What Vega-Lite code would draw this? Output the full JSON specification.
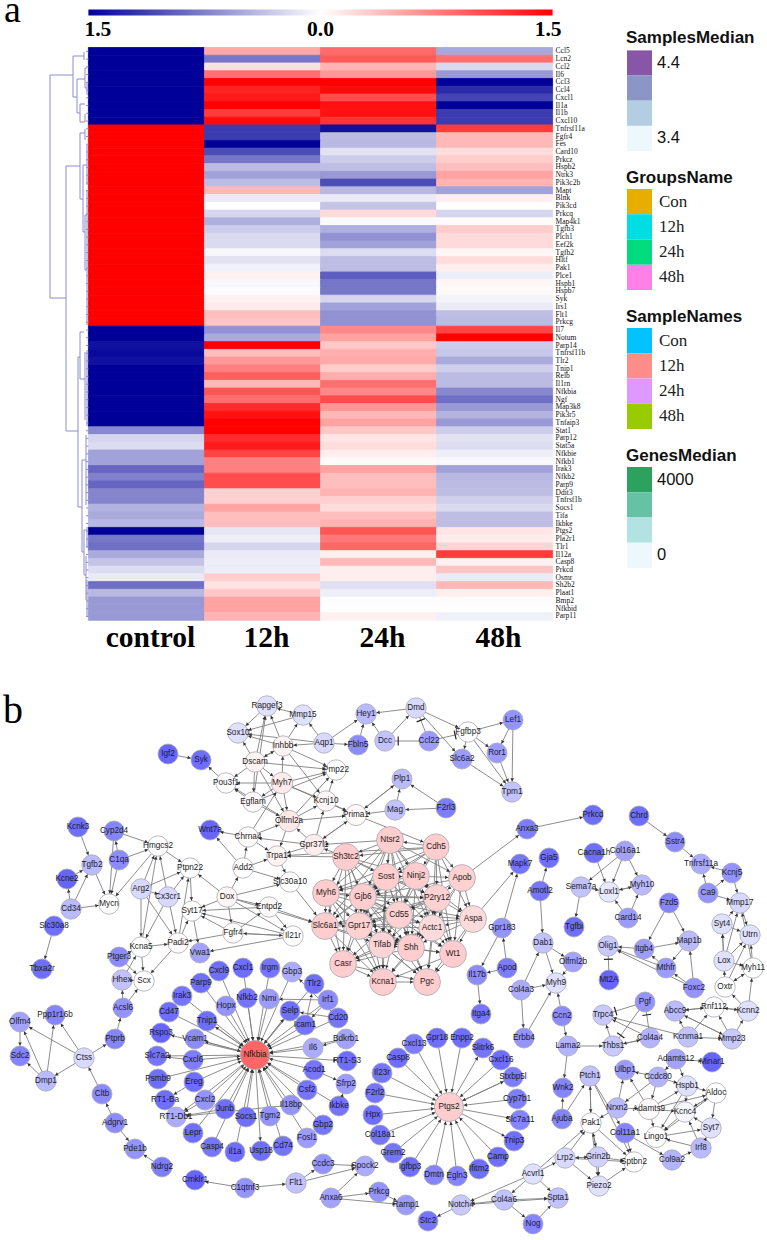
{"$schema":"https://vega.github.io/schema/vega-lite/v6.json","width":767,"height":1240,"padding":0,"autosize":{"type":"none"},"background":"white","config":{"view":{"stroke":null}},
"datasets":{
"heat":[
{"g":"Ccl5","s":"control","v":-1.5},{"g":"Ccl5","s":"12h","v":0.51},{"g":"Ccl5","s":"24h","v":0.87},{"g":"Ccl5","s":"48h","v":-0.51},
{"g":"Lcn2","s":"control","v":-1.5},{"g":"Lcn2","s":"12h","v":-0.8},{"g":"Lcn2","s":"24h","v":0.97},{"g":"Lcn2","s":"48h","v":0.84},
{"g":"Ccl2","s":"control","v":-1.5},{"g":"Ccl2","s":"12h","v":0.18},{"g":"Ccl2","s":"24h","v":0.44},{"g":"Ccl2","s":"48h","v":-0.23},
{"g":"Il6","s":"control","v":-1.5},{"g":"Il6","s":"12h","v":0.84},{"g":"Il6","s":"24h","v":0.6},{"g":"Il6","s":"48h","v":-0.6},
{"g":"Ccl3","s":"control","v":-1.5},{"g":"Ccl3","s":"12h","v":1.5},{"g":"Ccl3","s":"24h","v":1.5},{"g":"Ccl3","s":"48h","v":-1.5},
{"g":"Ccl4","s":"control","v":-1.5},{"g":"Ccl4","s":"12h","v":1.3},{"g":"Ccl4","s":"24h","v":1.45},{"g":"Ccl4","s":"48h","v":-1.25},
{"g":"Cxcl1","s":"control","v":-1.5},{"g":"Cxcl1","s":"12h","v":1.35},{"g":"Cxcl1","s":"24h","v":1.05},{"g":"Cxcl1","s":"48h","v":-1.1},
{"g":"Il1a","s":"control","v":-1.5},{"g":"Il1a","s":"12h","v":1.5},{"g":"Il1a","s":"24h","v":1.4},{"g":"Il1a","s":"48h","v":-1.5},
{"g":"Il1b","s":"control","v":-1.5},{"g":"Il1b","s":"12h","v":1.15},{"g":"Il1b","s":"24h","v":1.4},{"g":"Il1b","s":"48h","v":-1.15},
{"g":"Cxcl10","s":"control","v":-1.5},{"g":"Cxcl10","s":"12h","v":1.45},{"g":"Cxcl10","s":"24h","v":1.2},{"g":"Cxcl10","s":"48h","v":-1.15},
{"g":"Tnfrsf11a","s":"control","v":1.5},{"g":"Tnfrsf11a","s":"12h","v":-1.15},{"g":"Tnfrsf11a","s":"24h","v":-1.4},{"g":"Tnfrsf11a","s":"48h","v":1.15},
{"g":"Fgfr4","s":"control","v":1.5},{"g":"Fgfr4","s":"12h","v":-1.15},{"g":"Fgfr4","s":"24h","v":-0.4},{"g":"Fgfr4","s":"48h","v":0.42},
{"g":"Fes","s":"control","v":1.5},{"g":"Fes","s":"12h","v":-1.5},{"g":"Fes","s":"24h","v":-0.42},{"g":"Fes","s":"48h","v":0.42},
{"g":"Card10","s":"control","v":1.5},{"g":"Card10","s":"12h","v":-1.05},{"g":"Card10","s":"24h","v":-0.17},{"g":"Card10","s":"48h","v":0.2},
{"g":"Prkcz","s":"control","v":1.5},{"g":"Prkcz","s":"12h","v":-0.8},{"g":"Prkcz","s":"24h","v":-0.3},{"g":"Prkcz","s":"48h","v":0.3},
{"g":"Hspb2","s":"control","v":1.5},{"g":"Hspb2","s":"12h","v":-0.4},{"g":"Hspb2","s":"24h","v":-0.38},{"g":"Hspb2","s":"48h","v":0.38},
{"g":"Ntrk3","s":"control","v":1.5},{"g":"Ntrk3","s":"12h","v":-0.55},{"g":"Ntrk3","s":"24h","v":-0.6},{"g":"Ntrk3","s":"48h","v":0.55},
{"g":"Pik3c2b","s":"control","v":1.5},{"g":"Pik3c2b","s":"12h","v":-0.4},{"g":"Pik3c2b","s":"24h","v":-1.05},{"g":"Pik3c2b","s":"48h","v":0.45},
{"g":"Mapt","s":"control","v":1.5},{"g":"Mapt","s":"12h","v":0.42},{"g":"Mapt","s":"24h","v":-0.42},{"g":"Mapt","s":"48h","v":-0.55},
{"g":"Blnk","s":"control","v":1.5},{"g":"Blnk","s":"12h","v":-0.12},{"g":"Blnk","s":"24h","v":-0.12},{"g":"Blnk","s":"48h","v":0.1},
{"g":"Pik3cd","s":"control","v":1.5},{"g":"Pik3cd","s":"12h","v":0},{"g":"Pik3cd","s":"24h","v":-0.35},{"g":"Pik3cd","s":"48h","v":0},
{"g":"Prkcq","s":"control","v":1.5},{"g":"Prkcq","s":"12h","v":-0.25},{"g":"Prkcq","s":"24h","v":0.22},{"g":"Prkcq","s":"48h","v":-0.25},
{"g":"Map4k1","s":"control","v":1.5},{"g":"Map4k1","s":"12h","v":-0.47},{"g":"Map4k1","s":"24h","v":-0.03},{"g":"Map4k1","s":"48h","v":0.03},
{"g":"Tgfb3","s":"control","v":1.5},{"g":"Tgfb3","s":"12h","v":-0.3},{"g":"Tgfb3","s":"24h","v":-0.47},{"g":"Tgfb3","s":"48h","v":0.3},
{"g":"Plch1","s":"control","v":1.5},{"g":"Plch1","s":"12h","v":-0.22},{"g":"Plch1","s":"24h","v":-0.65},{"g":"Plch1","s":"48h","v":0.22},
{"g":"Eef2k","s":"control","v":1.5},{"g":"Eef2k","s":"12h","v":-0.22},{"g":"Eef2k","s":"24h","v":-0.55},{"g":"Eef2k","s":"48h","v":0.22},
{"g":"Tgfb2","s":"control","v":1.5},{"g":"Tgfb2","s":"12h","v":-0.05},{"g":"Tgfb2","s":"24h","v":-0.2},{"g":"Tgfb2","s":"48h","v":0.05},
{"g":"Hltf","s":"control","v":1.5},{"g":"Hltf","s":"12h","v":-0.17},{"g":"Hltf","s":"24h","v":-0.38},{"g":"Hltf","s":"48h","v":0.2},
{"g":"Pak1","s":"control","v":1.5},{"g":"Pak1","s":"12h","v":-0.08},{"g":"Pak1","s":"24h","v":-0.38},{"g":"Pak1","s":"48h","v":0.1},
{"g":"Plce1","s":"control","v":1.5},{"g":"Plce1","s":"12h","v":0.08},{"g":"Plce1","s":"24h","v":-0.95},{"g":"Plce1","s":"48h","v":-0.1},
{"g":"Hspb1","s":"control","v":1.5},{"g":"Hspb1","s":"12h","v":-0.05},{"g":"Hspb1","s":"24h","v":-0.8},{"g":"Hspb1","s":"48h","v":0.05},
{"g":"Hspb7","s":"control","v":1.5},{"g":"Hspb7","s":"12h","v":-0.02},{"g":"Hspb7","s":"24h","v":-0.8},{"g":"Hspb7","s":"48h","v":0.03},
{"g":"Syk","s":"control","v":1.5},{"g":"Syk","s":"12h","v":0.08},{"g":"Syk","s":"24h","v":-0.25},{"g":"Syk","s":"48h","v":-0.07},
{"g":"Irs1","s":"control","v":1.5},{"g":"Irs1","s":"12h","v":0.12},{"g":"Irs1","s":"24h","v":-0.55},{"g":"Irs1","s":"48h","v":-0.12},
{"g":"Flt1","s":"control","v":1.5},{"g":"Flt1","s":"12h","v":0.38},{"g":"Flt1","s":"24h","v":-0.65},{"g":"Flt1","s":"48h","v":-0.38},
{"g":"Prkcg","s":"control","v":1.5},{"g":"Prkcg","s":"12h","v":0.35},{"g":"Prkcg","s":"24h","v":-0.65},{"g":"Prkcg","s":"48h","v":-0.4},
{"g":"Il7","s":"control","v":-1.5},{"g":"Il7","s":"12h","v":-0.65},{"g":"Il7","s":"24h","v":0.7},{"g":"Il7","s":"48h","v":1.1},
{"g":"Notum","s":"control","v":-1.5},{"g":"Notum","s":"12h","v":-0.5},{"g":"Notum","s":"24h","v":0.55},{"g":"Notum","s":"48h","v":1.5},
{"g":"Parp14","s":"control","v":-1.4},{"g":"Parp14","s":"12h","v":1.5},{"g":"Parp14","s":"24h","v":0.33},{"g":"Parp14","s":"48h","v":-0.3},
{"g":"Tnfrsf11b","s":"control","v":-1.45},{"g":"Tnfrsf11b","s":"12h","v":0.38},{"g":"Tnfrsf11b","s":"24h","v":0.48},{"g":"Tnfrsf11b","s":"48h","v":-0.33},
{"g":"Tlr2","s":"control","v":-1.4},{"g":"Tlr2","s":"12h","v":0.6},{"g":"Tlr2","s":"24h","v":0.5},{"g":"Tlr2","s":"48h","v":-0.5},
{"g":"Tnip1","s":"control","v":-1.5},{"g":"Tnip1","s":"12h","v":0.75},{"g":"Tnip1","s":"24h","v":0.3},{"g":"Tnip1","s":"48h","v":-0.28},
{"g":"Relb","s":"control","v":-1.5},{"g":"Relb","s":"12h","v":0.95},{"g":"Relb","s":"24h","v":0.48},{"g":"Relb","s":"48h","v":-0.4},
{"g":"Il1rn","s":"control","v":-1.5},{"g":"Il1rn","s":"12h","v":0.42},{"g":"Il1rn","s":"24h","v":0.85},{"g":"Il1rn","s":"48h","v":-0.4},
{"g":"Nfkbia","s":"control","v":-1.5},{"g":"Nfkbia","s":"12h","v":1.0},{"g":"Nfkbia","s":"24h","v":0.7},{"g":"Nfkbia","s":"48h","v":-0.7},
{"g":"Ngf","s":"control","v":-1.5},{"g":"Ngf","s":"12h","v":0.85},{"g":"Ngf","s":"24h","v":1.05},{"g":"Ngf","s":"48h","v":-0.85},
{"g":"Map3k8","s":"control","v":-1.5},{"g":"Map3k8","s":"12h","v":1.25},{"g":"Map3k8","s":"24h","v":0.62},{"g":"Map3k8","s":"48h","v":-0.6},
{"g":"Pik3r5","s":"control","v":-1.5},{"g":"Pik3r5","s":"12h","v":1.4},{"g":"Pik3r5","s":"24h","v":0.42},{"g":"Pik3r5","s":"48h","v":-0.45},
{"g":"Tnfaip3","s":"control","v":-1.5},{"g":"Tnfaip3","s":"12h","v":1.5},{"g":"Tnfaip3","s":"24h","v":0.55},{"g":"Tnfaip3","s":"48h","v":-0.6},
{"g":"Stat1","s":"control","v":-0.7},{"g":"Stat1","s":"12h","v":1.5},{"g":"Stat1","s":"24h","v":0.33},{"g":"Stat1","s":"48h","v":-0.3},
{"g":"Parp12","s":"control","v":-0.25},{"g":"Parp12","s":"12h","v":1.25},{"g":"Parp12","s":"24h","v":0.15},{"g":"Parp12","s":"48h","v":-0.17},
{"g":"Stat5a","s":"control","v":-0.2},{"g":"Stat5a","s":"12h","v":1.35},{"g":"Stat5a","s":"24h","v":0.2},{"g":"Stat5a","s":"48h","v":-0.2},
{"g":"Nfkbie","s":"control","v":-0.55},{"g":"Nfkbie","s":"12h","v":1.1},{"g":"Nfkbie","s":"24h","v":0.1},{"g":"Nfkbie","s":"48h","v":-0.1},
{"g":"Nfkb1","s":"control","v":-0.55},{"g":"Nfkb1","s":"12h","v":0.75},{"g":"Nfkb1","s":"24h","v":0.03},{"g":"Nfkb1","s":"48h","v":-0.05},
{"g":"Irak3","s":"control","v":-0.9},{"g":"Irak3","s":"12h","v":0.75},{"g":"Irak3","s":"24h","v":0.55},{"g":"Irak3","s":"48h","v":-0.55},
{"g":"Nfkb2","s":"control","v":-0.75},{"g":"Nfkb2","s":"12h","v":1.05},{"g":"Nfkb2","s":"24h","v":0.38},{"g":"Nfkb2","s":"48h","v":-0.42},
{"g":"Parp9","s":"control","v":-0.9},{"g":"Parp9","s":"12h","v":1.05},{"g":"Parp9","s":"24h","v":0.38},{"g":"Parp9","s":"48h","v":-0.4},
{"g":"Ddit3","s":"control","v":-0.72},{"g":"Ddit3","s":"12h","v":0.27},{"g":"Ddit3","s":"24h","v":0.45},{"g":"Ddit3","s":"48h","v":-0.38},
{"g":"Tnfrsf1b","s":"control","v":-0.72},{"g":"Tnfrsf1b","s":"12h","v":0.28},{"g":"Tnfrsf1b","s":"24h","v":0.28},{"g":"Tnfrsf1b","s":"48h","v":-0.28},
{"g":"Socs1","s":"control","v":-0.45},{"g":"Socs1","s":"12h","v":0.55},{"g":"Socs1","s":"24h","v":0.2},{"g":"Socs1","s":"48h","v":-0.22},
{"g":"Tifa","s":"control","v":-0.5},{"g":"Tifa","s":"12h","v":0.38},{"g":"Tifa","s":"24h","v":0.38},{"g":"Tifa","s":"48h","v":-0.38},
{"g":"Ikbke","s":"control","v":-0.42},{"g":"Ikbke","s":"12h","v":0.38},{"g":"Ikbke","s":"24h","v":0.45},{"g":"Ikbke","s":"48h","v":-0.38},
{"g":"Ptgs2","s":"control","v":-1.5},{"g":"Ptgs2","s":"12h","v":-0.15},{"g":"Ptgs2","s":"24h","v":1.0},{"g":"Ptgs2","s":"48h","v":0.15},
{"g":"Pla2r1","s":"control","v":-0.8},{"g":"Pla2r1","s":"12h","v":-0.1},{"g":"Pla2r1","s":"24h","v":0.8},{"g":"Pla2r1","s":"48h","v":0.12},
{"g":"Tlr1","s":"control","v":-0.85},{"g":"Tlr1","s":"12h","v":-0.25},{"g":"Tlr1","s":"24h","v":0.9},{"g":"Tlr1","s":"48h","v":0.25},
{"g":"Il12a","s":"control","v":-0.5},{"g":"Il12a","s":"12h","v":-0.12},{"g":"Il12a","s":"24h","v":0.1},{"g":"Il12a","s":"48h","v":1.15},
{"g":"Casp8","s":"control","v":-0.35},{"g":"Casp8","s":"12h","v":-0.1},{"g":"Casp8","s":"24h","v":0.42},{"g":"Casp8","s":"48h","v":0.08},
{"g":"Prkcd","s":"control","v":-0.2},{"g":"Prkcd","s":"12h","v":-0.1},{"g":"Prkcd","s":"24h","v":0.1},{"g":"Prkcd","s":"48h","v":0.35},
{"g":"Osmr","s":"control","v":-0.12},{"g":"Osmr","s":"12h","v":0.28},{"g":"Osmr","s":"24h","v":0.1},{"g":"Osmr","s":"48h","v":-0.12},
{"g":"Sh2b2","s":"control","v":-0.85},{"g":"Sh2b2","s":"12h","v":0.17},{"g":"Sh2b2","s":"24h","v":-0.18},{"g":"Sh2b2","s":"48h","v":0.42},
{"g":"Plaat1","s":"control","v":-0.42},{"g":"Plaat1","s":"12h","v":0.33},{"g":"Plaat1","s":"24h","v":-0.1},{"g":"Plaat1","s":"48h","v":0.1},
{"g":"Bmp2","s":"control","v":-0.6},{"g":"Bmp2","s":"12h","v":0.55},{"g":"Bmp2","s":"24h","v":-0.01},{"g":"Bmp2","s":"48h","v":-0.01},
{"g":"Nfkbid","s":"control","v":-0.6},{"g":"Nfkbid","s":"12h","v":0.55},{"g":"Nfkbid","s":"24h","v":0},{"g":"Nfkbid","s":"48h","v":0},
{"g":"Parp11","s":"control","v":-0.6},{"g":"Parp11","s":"12h","v":0.45},{"g":"Parp11","s":"24h","v":0.08},{"g":"Parp11","s":"48h","v":-0.08}
],
"dend":[
{"a":50,"b":75,"c":50,"d":298},{"a":50,"b":75,"c":73,"d":75},{"a":50,"b":298,"c":66,"d":298},
{"a":73,"b":56,"c":73,"d":97},{"a":73,"b":56,"c":84,"d":56},{"a":84,"b":52,"c":84,"d":60},{"a":73,"b":97,"c":77,"d":97},{"a":77,"b":79,"c":77,"d":113},{"a":77,"b":79,"c":85,"d":79},{"a":85,"b":68,"c":85,"d":88},{"a":85,"b":68,"c":87,"d":68},{"a":85,"b":88,"c":87,"d":88},{"a":87,"b":82,"c":87,"d":95},{"a":77,"b":113,"c":80,"d":113},{"a":80,"b":104,"c":80,"d":122},{"a":80,"b":104,"c":85,"d":104},{"a":80,"b":122,"c":85,"d":122},{"a":85,"b":114,"c":85,"d":122},
{"a":66,"b":166,"c":66,"d":431},{"a":66,"b":166,"c":80,"d":166},{"a":80,"b":133,"c":80,"d":199},{"a":80,"b":133,"c":85,"d":133},{"a":85,"b":129,"c":85,"d":140},{"a":80,"b":199,"c":83,"d":199},{"a":83,"b":165,"c":83,"d":232},{"a":83,"b":165,"c":87,"d":165},{"a":87,"b":145,"c":87,"d":185},{"a":83,"b":232,"c":85,"d":232},{"a":85,"b":215,"c":85,"d":270},{"a":85,"b":215,"c":87,"d":215},{"a":87,"b":190,"c":87,"d":240},{"a":85,"b":270,"c":87,"d":270},{"a":87,"b":240,"c":87,"d":325},
{"a":66,"b":431,"c":78,"d":431},{"a":78,"b":357,"c":78,"d":507},{"a":78,"b":357,"c":80,"d":357},{"a":80,"b":332,"c":80,"d":379},{"a":80,"b":332,"c":84,"d":332},{"a":80,"b":379,"c":85,"d":379},{"a":85,"b":352,"c":85,"d":420},{"a":87,"b":350,"c":87,"d":426},
{"a":78,"b":507,"c":82,"d":507},{"a":82,"b":460,"c":82,"d":552},{"a":82,"b":460,"c":86,"d":460},{"a":86,"b":435,"c":86,"d":505},{"a":82,"b":552,"c":84,"d":552},{"a":84,"b":530,"c":84,"d":575},{"a":84,"b":530,"c":87,"d":530},{"a":87,"b":527,"c":87,"d":548},{"a":84,"b":575,"c":86,"d":575},{"a":86,"b":556,"c":86,"d":600},{"a":87,"b":580,"c":87,"d":617}
],
"nodes":[
{"n":"Rapgef3","x":267,"y":706,"fc":-0.2,"deg":2},{"n":"Sox10","x":238,"y":733,"fc":-0.2,"deg":2},{"n":"Inhbb","x":283,"y":746,"fc":0.08,"deg":2},{"n":"Dscam","x":255,"y":762,"fc":0.08,"deg":2},{"n":"Igf2","x":168,"y":754,"fc":-1,"deg":1},{"n":"Syk","x":201,"y":760,"fc":-0.95,"deg":1},{"n":"Pou3f1","x":226,"y":783,"fc":0,"deg":2},{"n":"Myh7","x":282,"y":783,"fc":0.13,"deg":5},{"n":"Egflam","x":253,"y":802,"fc":0.03,"deg":2},{"n":"Olfml2a","x":289,"y":821,"fc":0.15,"deg":5},{"n":"Wnt7a","x":210,"y":830,"fc":-1,"deg":1},{"n":"Chrna4","x":248,"y":837,"fc":0.03,"deg":2},{"n":"Kcnk3","x":78,"y":827,"fc":-0.95,"deg":1},{"n":"Cyp2d4","x":114,"y":831,"fc":-0.8,"deg":1},{"n":"Hmgcs2","x":158,"y":846,"fc":0,"deg":2},{"n":"C1qa","x":119,"y":860,"fc":-0.75,"deg":1},{"n":"Tgfb2","x":92,"y":865,"fc":-0.45,"deg":2},{"n":"Trpa1","x":277,"y":856,"fc":0.08,"deg":2},{"n":"Add2","x":243,"y":868,"fc":0,"deg":2},{"n":"Ptpn22","x":190,"y":868,"fc":0,"deg":2},{"n":"Kcne2","x":67,"y":879,"fc":-1,"deg":1},{"n":"Slc30a10","x":290,"y":882,"fc":0,"deg":2},{"n":"Arg2","x":141,"y":889,"fc":-0.25,"deg":2},{"n":"Cx3cr1","x":168,"y":897,"fc":-0.25,"deg":2},{"n":"Dox","x":227,"y":897,"fc":0.05,"deg":2},{"n":"Mycn","x":109,"y":904,"fc":0,"deg":2},{"n":"Cd34","x":71,"y":909,"fc":-0.45,"deg":2},{"n":"Syt17","x":192,"y":911,"fc":0,"deg":2},{"n":"Entpd2","x":269,"y":907,"fc":0.03,"deg":2},{"n":"Slc30a8","x":54,"y":926,"fc":-0.95,"deg":1},{"n":"Fgfr4","x":233,"y":933,"fc":0.02,"deg":2},{"n":"Il21r","x":293,"y":936,"fc":0,"deg":2},{"n":"Kcna5","x":141,"y":947,"fc":0,"deg":2},{"n":"Padi2","x":178,"y":943,"fc":0.03,"deg":2},{"n":"Vwa1","x":200,"y":953,"fc":-0.6,"deg":1},{"n":"Ptger3","x":119,"y":957,"fc":-0.75,"deg":1},
{"n":"Mmp15","x":303,"y":715,"fc":-0.2,"deg":2},{"n":"Hey1","x":366,"y":714,"fc":-0.45,"deg":2},{"n":"Dmd","x":416,"y":708,"fc":-0.25,"deg":2},{"n":"Lef1","x":513,"y":720,"fc":-0.7,"deg":1},{"n":"Fgfbp3","x":468,"y":732,"fc":0,"deg":2},{"n":"Aqp1","x":324,"y":743,"fc":-0.25,"deg":2},{"n":"Fbln5","x":358,"y":745,"fc":-0.75,"deg":1},{"n":"Dcc","x":385,"y":741,"fc":-0.4,"deg":2},{"n":"Ccl22","x":429,"y":741,"fc":-0.65,"deg":1},{"n":"Ror1","x":497,"y":753,"fc":-0.65,"deg":1},{"n":"Slc6a2","x":462,"y":759,"fc":-0.65,"deg":1},{"n":"Pmp22","x":336,"y":770,"fc":0,"deg":2},{"n":"Plp1","x":402,"y":779,"fc":-0.45,"deg":1},{"n":"Tpm1","x":512,"y":792,"fc":-0.4,"deg":2},{"n":"Kcnj10","x":326,"y":801,"fc":0.05,"deg":2},{"n":"Mag","x":395,"y":810,"fc":-0.4,"deg":2},{"n":"F2rl3","x":446,"y":808,"fc":-0.85,"deg":1},{"n":"Prima1","x":356,"y":815,"fc":0.04,"deg":4},{"n":"Anxa3","x":527,"y":829,"fc":-0.85,"deg":1},{"n":"Gpr37l1","x":314,"y":845,"fc":0.12,"deg":5},
{"n":"Ntsr2","x":390,"y":840,"fc":0.33,"deg":22},{"n":"Cdh5","x":436,"y":847,"fc":0.33,"deg":20},{"n":"Sh3tc2","x":346,"y":857,"fc":0.33,"deg":22},{"n":"Sost","x":386,"y":877,"fc":0.33,"deg":22},{"n":"Ninj2","x":416,"y":876,"fc":0.33,"deg":22},{"n":"Apob","x":462,"y":878,"fc":0.3,"deg":22},{"n":"Myh6","x":326,"y":893,"fc":0.33,"deg":22},{"n":"Gjb6","x":363,"y":897,"fc":0.33,"deg":22},{"n":"P2ry12","x":437,"y":898,"fc":0.3,"deg":22},{"n":"Cd55","x":399,"y":915,"fc":0.3,"deg":22},{"n":"Aspa","x":473,"y":919,"fc":0.24,"deg":22},{"n":"Actc1","x":432,"y":928,"fc":0.24,"deg":20},{"n":"Slc6a1","x":325,"y":926,"fc":0.33,"deg":22},{"n":"Gpr17","x":359,"y":926,"fc":0.3,"deg":22},{"n":"Tifab","x":382,"y":945,"fc":0.28,"deg":20},{"n":"Shh","x":411,"y":948,"fc":0.33,"deg":22},{"n":"Wt1","x":453,"y":954,"fc":0.33,"deg":22},{"n":"Casr","x":343,"y":964,"fc":0.33,"deg":22},{"n":"Kcna1","x":383,"y":982,"fc":0.33,"deg":22},{"n":"Pgc","x":427,"y":982,"fc":0.33,"deg":22},
{"n":"Gja5","x":549,"y":858,"fc":-0.95,"deg":1},{"n":"Mapk7","x":520,"y":864,"fc":-0.9,"deg":1},{"n":"Amotl2","x":540,"y":891,"fc":-0.9,"deg":1},{"n":"Gpr183","x":502,"y":928,"fc":-0.7,"deg":1},{"n":"Dab1","x":543,"y":943,"fc":-0.4,"deg":2},{"n":"Apod","x":507,"y":968,"fc":-0.85,"deg":1},{"n":"Il17b","x":477,"y":975,"fc":-0.75,"deg":1},
{"n":"Prkcd","x":593,"y":815,"fc":-0.95,"deg":1},{"n":"Chrd","x":639,"y":816,"fc":-0.95,"deg":1},{"n":"Sstr4","x":675,"y":842,"fc":-0.75,"deg":1},{"n":"Cacna1h","x":594,"y":853,"fc":-0.95,"deg":1},{"n":"Col16a1","x":625,"y":851,"fc":-0.6,"deg":1},{"n":"Tnfrsf11a","x":701,"y":864,"fc":-0.55,"deg":1},{"n":"Kcnj5","x":732,"y":873,"fc":-0.7,"deg":1},{"n":"Sema7a","x":581,"y":887,"fc":-0.4,"deg":2},{"n":"Loxl1","x":609,"y":892,"fc":-0.15,"deg":2},{"n":"Myh10","x":642,"y":885,"fc":-0.45,"deg":2},{"n":"Ca9","x":708,"y":893,"fc":-0.7,"deg":1},{"n":"Mmp17","x":740,"y":903,"fc":-0.25,"deg":2},{"n":"Fzd5","x":669,"y":903,"fc":-0.8,"deg":1},{"n":"Syt4","x":722,"y":924,"fc":-0.2,"deg":2},{"n":"Card14","x":628,"y":918,"fc":-0.65,"deg":1},{"n":"Tgfbi","x":574,"y":927,"fc":-0.95,"deg":1},{"n":"Utrn","x":750,"y":935,"fc":-0.2,"deg":2},{"n":"Olfml2b","x":573,"y":962,"fc":-0.6,"deg":1},{"n":"Olig1","x":608,"y":946,"fc":-0.35,"deg":2},{"n":"Itgb4","x":644,"y":949,"fc":-0.65,"deg":1},{"n":"Map1b","x":689,"y":941,"fc":-0.45,"deg":2},{"n":"Lox","x":724,"y":961,"fc":-0.2,"deg":2},{"n":"Mthfr","x":666,"y":968,"fc":-0.65,"deg":1},{"n":"Myh11","x":753,"y":968,"fc":0,"deg":2},{"n":"Myh9","x":556,"y":983,"fc":-0.2,"deg":2},{"n":"Mt2A","x":609,"y":980,"fc":-1,"deg":1},{"n":"Foxc2","x":694,"y":988,"fc":-0.7,"deg":1},{"n":"Oxtr","x":725,"y":987,"fc":0,"deg":2},
{"n":"Col4a3","x":521,"y":990,"fc":-0.55,"deg":1},{"n":"Pgf","x":645,"y":1002,"fc":-0.7,"deg":1},{"n":"Abcc9","x":675,"y":1011,"fc":-0.45,"deg":2},{"n":"Rnf112","x":714,"y":1007,"fc":0,"deg":2},{"n":"Kcnn2","x":748,"y":1011,"fc":-0.2,"deg":2},{"n":"Trpc4","x":603,"y":1015,"fc":-0.35,"deg":2},{"n":"Ccn2","x":562,"y":1016,"fc":-0.75,"deg":1},{"n":"Itga4","x":481,"y":1014,"fc":-0.9,"deg":1},{"n":"Kcnma1","x":688,"y":1037,"fc":-0.4,"deg":2},{"n":"Mmp23","x":732,"y":1039,"fc":-0.35,"deg":2},{"n":"Col4a4","x":650,"y":1038,"fc":-0.5,"deg":1},{"n":"Erbb4","x":524,"y":1038,"fc":-0.7,"deg":1},{"n":"Thbs1","x":613,"y":1046,"fc":-0.35,"deg":2},{"n":"Lama2","x":568,"y":1046,"fc":-0.5,"deg":1},{"n":"Adamts12","x":676,"y":1059,"fc":-0.6,"deg":1},{"n":"Minar1","x":712,"y":1062,"fc":-1,"deg":1},{"n":"Ulbp1","x":625,"y":1070,"fc":-0.65,"deg":1},{"n":"Ptch1","x":590,"y":1076,"fc":-0.4,"deg":2},{"n":"Ccdc80","x":658,"y":1077,"fc":-0.5,"deg":1},{"n":"Wnk2","x":563,"y":1088,"fc":-0.8,"deg":1},{"n":"Hspb1","x":687,"y":1086,"fc":-0.2,"deg":2},{"n":"Aldoc","x":716,"y":1093,"fc":0,"deg":2},{"n":"Nrxn2","x":617,"y":1108,"fc":-0.45,"deg":2},{"n":"Adamts9","x":649,"y":1109,"fc":0.04,"deg":4},{"n":"Kcnc4","x":685,"y":1112,"fc":-0.05,"deg":2},{"n":"Ajuba","x":562,"y":1119,"fc":-0.8,"deg":1},{"n":"Pak1","x":591,"y":1123,"fc":0,"deg":2},{"n":"Syt7","x":711,"y":1128,"fc":-0.2,"deg":2},{"n":"Col11a1","x":625,"y":1133,"fc":-0.8,"deg":1},{"n":"Lingo1","x":656,"y":1137,"fc":0,"deg":4},{"n":"Irf8","x":701,"y":1148,"fc":-0.45,"deg":2},{"n":"Col9a2","x":672,"y":1160,"fc":-0.5,"deg":2},{"n":"Lrp2","x":565,"y":1158,"fc":-0.25,"deg":2},{"n":"Grin2b","x":598,"y":1157,"fc":-0.3,"deg":2},{"n":"Sptbn2","x":634,"y":1162,"fc":0,"deg":2},{"n":"Acvrl1","x":533,"y":1174,"fc":-0.2,"deg":2},{"n":"Piezo2","x":599,"y":1186,"fc":-0.2,"deg":2},{"n":"Spta1","x":558,"y":1198,"fc":-0.4,"deg":2},{"n":"Col4a6","x":504,"y":1200,"fc":-0.4,"deg":2},{"n":"Notch4","x":461,"y":1205,"fc":-0.35,"deg":2},{"n":"Nog","x":533,"y":1224,"fc":-0.8,"deg":1},{"n":"Stc2","x":428,"y":1221,"fc":-0.9,"deg":1},{"n":"Ramp1","x":406,"y":1205,"fc":-0.65,"deg":1},{"n":"Prkcg","x":379,"y":1192,"fc":-0.7,"deg":1},{"n":"Spock2","x":365,"y":1166,"fc":-0.55,"deg":1},
{"n":"Ptgs2","x":449,"y":1107,"fc":0.33,"deg":30},{"n":"Cxcl13","x":414,"y":1044,"fc":-0.85,"deg":1},{"n":"Gpr18","x":437,"y":1038,"fc":-0.95,"deg":1},{"n":"Enpp2","x":462,"y":1038,"fc":-0.95,"deg":1},{"n":"Slitrk6","x":483,"y":1048,"fc":-0.9,"deg":1},{"n":"Cxcl16","x":501,"y":1060,"fc":-0.95,"deg":1},{"n":"Stxbp5l","x":513,"y":1077,"fc":-0.85,"deg":1},{"n":"Cyp7b1","x":517,"y":1099,"fc":-0.85,"deg":1},{"n":"Slc7a11","x":520,"y":1120,"fc":-0.8,"deg":1},{"n":"Tnip3","x":514,"y":1141,"fc":-0.95,"deg":1},{"n":"Camp","x":498,"y":1157,"fc":-0.95,"deg":1},{"n":"Ifitm2","x":479,"y":1169,"fc":-0.95,"deg":1},{"n":"Egln3","x":457,"y":1176,"fc":-0.8,"deg":1},{"n":"Dmtn","x":434,"y":1175,"fc":-0.8,"deg":1},{"n":"Igfbp3","x":410,"y":1167,"fc":-0.95,"deg":1},{"n":"Grem2","x":393,"y":1153,"fc":-0.9,"deg":1},{"n":"Col18a1","x":380,"y":1135,"fc":-0.9,"deg":1},{"n":"Hpx","x":373,"y":1115,"fc":-0.95,"deg":1},{"n":"F2rl2","x":375,"y":1093,"fc":-0.9,"deg":1},{"n":"Il23r","x":382,"y":1073,"fc":-0.9,"deg":1},{"n":"Casp8","x":398,"y":1058,"fc":-0.95,"deg":1},
{"n":"Nfkbia","x":255,"y":1055,"fc":1,"deg":30},{"n":"Tbxa2r","x":42,"y":969,"fc":-0.95,"deg":1},{"n":"Hhex","x":122,"y":980,"fc":-0.4,"deg":2},{"n":"Scx","x":144,"y":981,"fc":0,"deg":2},{"n":"Acsl6","x":123,"y":1008,"fc":-0.7,"deg":1},{"n":"Cxcl9","x":219,"y":971,"fc":-0.95,"deg":1},{"n":"Cxcl1","x":243,"y":968,"fc":-0.95,"deg":1},{"n":"Irgm","x":270,"y":968,"fc":-0.9,"deg":1},{"n":"Gbp3","x":292,"y":972,"fc":-0.55,"deg":1},{"n":"Parp9","x":201,"y":983,"fc":-0.95,"deg":1},{"n":"Tlr2","x":314,"y":984,"fc":-0.95,"deg":1},{"n":"Irak3","x":182,"y":996,"fc":-0.9,"deg":1},{"n":"Hopx","x":226,"y":1006,"fc":-0.7,"deg":1},{"n":"Nfkb2","x":247,"y":998,"fc":-0.9,"deg":1},{"n":"Nmi","x":269,"y":999,"fc":-0.65,"deg":1},{"n":"Irf1","x":328,"y":1000,"fc":-0.75,"deg":1},{"n":"Cd47","x":169,"y":1012,"fc":-0.95,"deg":1},{"n":"Tnip1","x":207,"y":1021,"fc":-0.95,"deg":1},{"n":"Selp","x":290,"y":1011,"fc":-0.95,"deg":1},{"n":"Cd20","x":338,"y":1018,"fc":-0.9,"deg":1},{"n":"Icam1","x":305,"y":1025,"fc":-0.9,"deg":1},{"n":"Rspo3","x":161,"y":1033,"fc":-1,"deg":1},{"n":"Vcam1","x":195,"y":1039,"fc":-0.75,"deg":1},{"n":"Ptprb","x":115,"y":1039,"fc":-0.8,"deg":1},{"n":"Bdkrb1","x":346,"y":1039,"fc":-0.6,"deg":1},{"n":"Il6","x":313,"y":1048,"fc":-0.55,"deg":1},{"n":"Olfm4","x":20,"y":1022,"fc":-0.6,"deg":1},{"n":"Ppp1r16b","x":55,"y":1015,"fc":-0.8,"deg":1},{"n":"Ctss","x":84,"y":1058,"fc":-0.25,"deg":2},{"n":"Sdc2","x":20,"y":1056,"fc":-0.8,"deg":1},{"n":"Slc7a2","x":157,"y":1056,"fc":-0.9,"deg":1},{"n":"Cxcl6","x":193,"y":1060,"fc":-0.85,"deg":1},{"n":"RT1-S3","x":347,"y":1061,"fc":-0.95,"deg":1},{"n":"Acod1","x":314,"y":1070,"fc":-0.9,"deg":1},{"n":"Psmb9","x":158,"y":1079,"fc":-0.95,"deg":1},{"n":"Dmp1","x":46,"y":1081,"fc":-0.45,"deg":2},{"n":"Ereg","x":194,"y":1082,"fc":-0.95,"deg":1},{"n":"Sfrp2","x":346,"y":1084,"fc":-0.65,"deg":1},{"n":"Csf2","x":307,"y":1090,"fc":-0.9,"deg":1},{"n":"Cltb","x":102,"y":1094,"fc":-0.75,"deg":1},{"n":"RT1-Ba","x":165,"y":1100,"fc":-0.95,"deg":1},{"n":"Cxcl2","x":205,"y":1100,"fc":-0.7,"deg":1},{"n":"Il18bp","x":291,"y":1105,"fc":-0.7,"deg":1},{"n":"Ikbke","x":339,"y":1106,"fc":-0.9,"deg":1},{"n":"Junb","x":225,"y":1109,"fc":-0.95,"deg":1},{"n":"Tgm2","x":270,"y":1116,"fc":-0.7,"deg":1},{"n":"Socs1","x":246,"y":1117,"fc":-0.95,"deg":1},{"n":"RT1-Db1","x":176,"y":1117,"fc":-0.55,"deg":1},{"n":"Adgrv1","x":115,"y":1123,"fc":-0.75,"deg":1},{"n":"Gbp2","x":323,"y":1125,"fc":-0.9,"deg":1},{"n":"Lepr","x":193,"y":1133,"fc":-0.95,"deg":1},{"n":"Fosl1","x":307,"y":1138,"fc":-0.65,"deg":1},{"n":"Casp4","x":212,"y":1147,"fc":-0.9,"deg":1},{"n":"Cd74","x":283,"y":1146,"fc":-0.9,"deg":1},{"n":"Pde1b","x":135,"y":1149,"fc":-0.7,"deg":1},{"n":"Il1a","x":235,"y":1152,"fc":-0.95,"deg":1},{"n":"Usp18","x":261,"y":1151,"fc":-0.95,"deg":1},{"n":"Ndrg2","x":162,"y":1167,"fc":-0.85,"deg":1},{"n":"Ccdc3","x":323,"y":1164,"fc":-0.7,"deg":1},{"n":"Cmklr1","x":195,"y":1180,"fc":-1,"deg":1},{"n":"Flt1","x":296,"y":1183,"fc":-0.4,"deg":2},{"n":"C1qtnf3","x":245,"y":1188,"fc":-0.7,"deg":1},{"n":"Anxa6","x":331,"y":1198,"fc":-0.6,"deg":1}
],
"edges":[
{"s":"Rapgef3","t":"Sox10"},{"s":"Mmp15","t":"Rapgef3"},{"s":"Mmp15","t":"Sox10"},{"s":"Inhbb","t":"Sox10"},{"s":"Inhbb","t":"Rapgef3"},{"s":"Inhbb","t":"Mmp15"},{"s":"Dscam","t":"Sox10"},{"s":"Dscam","t":"Rapgef3"},{"s":"Dscam","t":"Inhbb"},{"s":"Myh7","t":"Inhbb"},{"s":"Egflam","t":"Rapgef3"},{"s":"Aqp1","t":"Mmp15"},{"s":"Aqp1","t":"Inhbb"},{"s":"Aqp1","t":"Hey1"},{"s":"Aqp1","t":"Fbln5"},{"s":"Aqp1","t":"Sox10"},{"s":"Fbln5","t":"Hey1"},{"s":"Dcc","t":"Hey1"},{"s":"Dcc","t":"Dmd"},{"s":"Dmd","t":"Hey1"},{"s":"Dmd","t":"Fgfbp3"},{"s":"Dmd","t":"Slc6a2"},{"s":"Ccl22","t":"Dcc","k":"t"},{"s":"Ccl22","t":"Dmd","k":"t"},{"s":"Ccl22","t":"Fgfbp3","k":"t"},{"s":"Fgfbp3","t":"Lef1"},{"s":"Fgfbp3","t":"Ror1"},{"s":"Fgfbp3","t":"Slc6a2"},{"s":"Fgfbp3","t":"Tpm1"},{"s":"Lef1","t":"Ror1"},{"s":"Lef1","t":"Tpm1"},{"s":"Ror1","t":"Tpm1"},{"s":"Slc6a2","t":"Tpm1"},
{"s":"Dscam","t":"Pou3f1"},{"s":"Myh7","t":"Pou3f1"},{"s":"Egflam","t":"Pou3f1"},{"s":"Olfml2a","t":"Pou3f1"},{"s":"Pou3f1","t":"Syk"},{"s":"Igf2","t":"Syk"},{"s":"Dscam","t":"Egflam"},{"s":"Dscam","t":"Myh7"},{"s":"Inhbb","t":"Dscam"},{"s":"Myh7","t":"Egflam"},{"s":"Myh7","t":"Olfml2a"},{"s":"Egflam","t":"Olfml2a"},{"s":"Dscam","t":"Olfml2a"},{"s":"Inhbb","t":"Pmp22"},{"s":"Myh7","t":"Pmp22"},{"s":"Egflam","t":"Pmp22"},{"s":"Dscam","t":"Pmp22"},{"s":"Olfml2a","t":"Pmp22"},{"s":"Inhbb","t":"Kcnj10"},{"s":"Myh7","t":"Kcnj10"},{"s":"Kcnj10","t":"Pmp22"},{"s":"Olfml2a","t":"Kcnj10"},{"s":"Kcnj10","t":"Prima1"},{"s":"Olfml2a","t":"Prima1"},{"s":"Gpr37l1","t":"Prima1"},{"s":"Prima1","t":"Gpr37l1"},{"s":"Gpr37l1","t":"Kcnj10"},{"s":"Myh7","t":"Prima1"},{"s":"Prima1","t":"Plp1"},{"s":"Plp1","t":"Prima1"},{"s":"Mag","t":"Plp1"},{"s":"Mag","t":"Prima1"},{"s":"F2rl3","t":"Plp1"},{"s":"F2rl3","t":"Mag"},{"s":"Chrna4","t":"Wnt7a"},{"s":"Add2","t":"Wnt7a"},{"s":"Chrna4","t":"Trpa1"},{"s":"Add2","t":"Chrna4"},{"s":"Chrna4","t":"Olfml2a"},{"s":"Chrna4","t":"Myh7"},{"s":"Add2","t":"Trpa1"},{"s":"Add2","t":"Slc30a10"},{"s":"Dox","t":"Add2"},{"s":"Dox","t":"Ptpn22"},{"s":"Dox","t":"Slc30a10"},{"s":"Dox","t":"Syt17"},{"s":"Dox","t":"Fgfr4"},{"s":"Dox","t":"Entpd2"},{"s":"Dox","t":"Il21r"},{"s":"Entpd2","t":"Syt17"},{"s":"Entpd2","t":"Il21r"},{"s":"Il21r","t":"Syt17"},{"s":"Fgfr4","t":"Syt17"},{"s":"Fgfr4","t":"Il21r"},{"s":"Il21r","t":"Fgfr4"},{"s":"Fgfr4","t":"Padi2"},{"s":"Il21r","t":"Vwa1"},{"s":"Fgfr4","t":"Entpd2"},{"s":"Entpd2","t":"Slc6a1"},{"s":"Dox","t":"Slc6a1"},{"s":"Gpr37l1","t":"Trpa1"},{"s":"Sh3tc2","t":"Trpa1"},{"s":"Gpr37l1","t":"Olfml2a"},{"s":"Trpa1","t":"Slc30a10"},{"s":"Olfml2a","t":"Trpa1"},{"s":"Gpr37l1","t":"Chrna4"},{"s":"Cdh5","t":"Trpa1"},{"s":"Ntsr2","t":"Gpr37l1"},{"s":"Sh3tc2","t":"Gpr37l1"},{"s":"Slc30a10","t":"Slc6a1"},{"s":"Prima1","t":"Cdh5"},
{"s":"Kcnk3","t":"Tgfb2"},{"s":"Kcne2","t":"Tgfb2"},{"s":"Cd34","t":"Kcne2"},{"s":"Cd34","t":"Tgfb2"},{"s":"Cd34","t":"Mycn"},{"s":"Tgfb2","t":"Mycn"},{"s":"C1qa","t":"Cyp2d4"},{"s":"Cyp2d4","t":"Mycn"},{"s":"C1qa","t":"Mycn"},{"s":"Cyp2d4","t":"Hmgcs2"},{"s":"C1qa","t":"Hmgcs2"},{"s":"Hmgcs2","t":"Mycn"},{"s":"Hmgcs2","t":"Ptpn22"},{"s":"Arg2","t":"Hmgcs2"},{"s":"Cx3cr1","t":"Hmgcs2"},{"s":"Kcna5","t":"Hmgcs2"},{"s":"Arg2","t":"Ptpn22"},{"s":"Arg2","t":"Cx3cr1"},{"s":"Cx3cr1","t":"Ptpn22"},{"s":"Arg2","t":"Kcna5"},{"s":"Arg2","t":"Padi2"},{"s":"Cx3cr1","t":"Kcna5"},{"s":"Cx3cr1","t":"Padi2"},{"s":"Padi2","t":"Ptpn22"},{"s":"Ptpn22","t":"Syt17"},{"s":"Syt17","t":"Vwa1"},{"s":"Padi2","t":"Syt17"},{"s":"Kcna5","t":"Padi2"},{"s":"Padi2","t":"Scx"},{"s":"Slc30a8","t":"Tbxa2r"},{"s":"Ptger3","t":"Kcna5"},{"s":"Ptger3","t":"Scx"},{"s":"Hhex","t":"Kcna5"},{"s":"Hhex","t":"Scx"},{"s":"Kcna5","t":"Scx"},{"s":"Acsl6","t":"Hhex"},{"s":"Acsl6","t":"Scx"},{"s":"Ptprb","t":"Acsl6"},{"s":"Ctss","t":"Ptprb"},{"s":"Ctss","t":"Olfm4"},{"s":"Ctss","t":"Ppp1r16b"},{"s":"Ctss","t":"Dmp1"},{"s":"Dmp1","t":"Olfm4"},{"s":"Dmp1","t":"Ppp1r16b"},{"s":"Dmp1","t":"Sdc2"},{"s":"Olfm4","t":"Sdc2"},{"s":"Cltb","t":"Ctss"},{"s":"Adgrv1","t":"Cltb"},{"s":"Adgrv1","t":"Pde1b"},{"s":"Ndrg2","t":"Pde1b"},{"s":"C1qtnf3","t":"Cmklr1"},{"s":"C1qtnf3","t":"Flt1"},{"s":"Flt1","t":"Ccdc3"},{"s":"Ccdc3","t":"Spock2"},{"s":"Flt1","t":"Spock2"},{"s":"Anxa6","t":"Spock2"},{"s":"Anxa6","t":"Prkcg"},{"s":"Anxa6","t":"Ramp1"},{"s":"Prkcg","t":"Ramp1"},
{"s":"Cxcl9","t":"Nfkbia"},{"s":"Cxcl1","t":"Nfkbia"},{"s":"Irgm","t":"Nfkbia"},{"s":"Gbp3","t":"Nfkbia"},{"s":"Parp9","t":"Nfkbia"},{"s":"Irak3","t":"Nfkbia"},{"s":"Hopx","t":"Nfkbia"},{"s":"Nfkb2","t":"Nfkbia"},{"s":"Nmi","t":"Nfkbia"},{"s":"Cd47","t":"Nfkbia"},{"s":"Tnip1","t":"Nfkbia"},{"s":"Nfkbia","t":"Tnip1"},{"s":"Selp","t":"Nfkbia"},{"s":"Nfkbia","t":"Selp"},{"s":"Icam1","t":"Nfkbia"},{"s":"Tlr2","t":"Nfkbia"},{"s":"Irf1","t":"Nfkbia"},{"s":"Cd20","t":"Nfkbia"},{"s":"Il6","t":"Nfkbia"},{"s":"Bdkrb1","t":"Nfkbia"},{"s":"Acod1","t":"Nfkbia"},{"s":"Csf2","t":"Nfkbia"},{"s":"Il18bp","t":"Nfkbia"},{"s":"Ikbke","t":"Nfkbia"},{"s":"Gbp2","t":"Nfkbia"},{"s":"Fosl1","t":"Nfkbia"},{"s":"Cd74","t":"Nfkbia"},{"s":"Tgm2","t":"Nfkbia"},{"s":"Socs1","t":"Nfkbia"},{"s":"Il1a","t":"Nfkbia"},{"s":"Casp4","t":"Nfkbia"},{"s":"Junb","t":"Nfkbia"},{"s":"Lepr","t":"Nfkbia"},{"s":"Cxcl2","t":"Nfkbia"},{"s":"Ereg","t":"Nfkbia"},{"s":"Psmb9","t":"Nfkbia"},{"s":"Cxcl6","t":"Nfkbia"},{"s":"Vcam1","t":"Nfkbia"},{"s":"Nfkbia","t":"Rspo3"},{"s":"Nfkbia","t":"Slc7a2"},{"s":"Cxcl6","t":"Slc7a2"},{"s":"Nfkbia","t":"RT1-S3"},{"s":"Nfkbia","t":"Usp18"},{"s":"Acod1","t":"Sfrp2"},{"s":"Ereg","t":"RT1-Ba"},{"s":"Nfkbia","t":"RT1-Db1"},{"s":"Nfkbia","t":"Vcam1"},{"s":"Irf1","t":"Nmi"},{"s":"Icam1","t":"Tlr2"},{"s":"Irf1","t":"Icam1"},{"s":"Ikbke","t":"Sfrp2"},{"s":"Junb","t":"RT1-Db1"},{"s":"Il18bp","t":"RT1-Db1"},{"s":"Cd20","t":"Gbp3"},{"s":"Bdkrb1","t":"Il6"},{"s":"Cxcl2","t":"RT1-Db1"},{"s":"Cd20","t":"Selp"},
{"s":"Cxcl13","t":"Ptgs2"},{"s":"Gpr18","t":"Ptgs2"},{"s":"Enpp2","t":"Ptgs2"},{"s":"Casp8","t":"Ptgs2"},{"s":"Il23r","t":"Ptgs2"},{"s":"F2rl2","t":"Ptgs2"},{"s":"Hpx","t":"Ptgs2"},{"s":"Col18a1","t":"Ptgs2"},{"s":"Grem2","t":"Ptgs2"},{"s":"Igfbp3","t":"Ptgs2"},{"s":"Dmtn","t":"Ptgs2"},{"s":"Egln3","t":"Ptgs2"},{"s":"Ifitm2","t":"Ptgs2"},{"s":"Camp","t":"Ptgs2"},{"s":"Ptgs2","t":"Slitrk6"},{"s":"Cxcl16","t":"Ptgs2"},{"s":"Stxbp5l","t":"Ptgs2"},{"s":"Ptgs2","t":"Stxbp5l"},{"s":"Cyp7b1","t":"Ptgs2"},{"s":"Ptgs2","t":"Slc7a11"},{"s":"Ptgs2","t":"Tnip3"},
{"s":"Apob","t":"Anxa3"},{"s":"Anxa3","t":"Prkcd"},{"s":"Aspa","t":"Mapk7"},{"s":"Gpr183","t":"Mapk7"},{"s":"Apod","t":"Gpr183"},{"s":"Apod","t":"Il17b"},{"s":"Gpr183","t":"Il17b"},{"s":"Il17b","t":"Itga4"},{"s":"Amotl2","t":"Gja5"},{"s":"Amotl2","t":"Dab1"},{"s":"Dab1","t":"Olfml2b"},{"s":"Dab1","t":"Myh9"},{"s":"Col4a3","t":"Dab1"},{"s":"Col4a3","t":"Myh9"},{"s":"Col4a3","t":"Erbb4"},{"s":"Erbb4","t":"Myh9"},{"s":"Olfml2b","t":"Myh9"},{"s":"Ccn2","t":"Myh9"},{"s":"Ccn2","t":"Lama2"},{"s":"Lama2","t":"Wnk2"},{"s":"Lama2","t":"Thbs1"},{"s":"Ajuba","t":"Wnk2"},{"s":"Ajuba","t":"Ptch1"},{"s":"Pak1","t":"Ptch1"},{"s":"Ptch1","t":"Pak1"},{"s":"Ptch1","t":"Sptbn2"},
{"s":"Col16a1","t":"Sema7a"},{"s":"Col16a1","t":"Loxl1"},{"s":"Col16a1","t":"Myh10"},{"s":"Cacna1h","t":"Loxl1"},{"s":"Sema7a","t":"Loxl1"},{"s":"Sema7a","t":"Tgfbi"},{"s":"Loxl1","t":"Myh10"},{"s":"Myh10","t":"Loxl1"},{"s":"Card14","t":"Myh10"},{"s":"Card14","t":"Loxl1"},{"s":"Chrd","t":"Sstr4"},{"s":"Sstr4","t":"Tnfrsf11a"},{"s":"Kcnj5","t":"Tnfrsf11a"},{"s":"Ca9","t":"Tnfrsf11a"},{"s":"Ca9","t":"Kcnj5"},{"s":"Ca9","t":"Mmp17"},{"s":"Kcnj5","t":"Mmp17"},{"s":"Mmp17","t":"Utrn"},{"s":"Lox","t":"Mmp17"},{"s":"Myh11","t":"Mmp17"},{"s":"Lox","t":"Syt4"},{"s":"Oxtr","t":"Syt4"},{"s":"Syt4","t":"Mmp17"},{"s":"Lox","t":"Utrn"},{"s":"Oxtr","t":"Utrn"},{"s":"Myh11","t":"Utrn"},{"s":"Syt4","t":"Utrn"},{"s":"Lox","t":"Myh11"},{"s":"Oxtr","t":"Myh11"},{"s":"Myh11","t":"Oxtr"},{"s":"Oxtr","t":"Lox"},{"s":"Kcnn2","t":"Myh11"},{"s":"Kcnn2","t":"Oxtr"},{"s":"Fzd5","t":"Itgb4"},{"s":"Fzd5","t":"Map1b"},{"s":"Itgb4","t":"Olig1"},{"s":"Itgb4","t":"Map1b"},{"s":"Map1b","t":"Mthfr"},{"s":"Mthfr","t":"Itgb4"},{"s":"Foxc2","t":"Mthfr"},{"s":"Foxc2","t":"Map1b"},{"s":"Foxc2","t":"Olig1"},{"s":"Mthfr","t":"Olig1"},{"s":"Mt2A","t":"Olig1","k":"t"},
{"s":"Pgf","t":"Trpc4","k":"t"},{"s":"Pgf","t":"Thbs1","k":"t"},{"s":"Col4a4","t":"Pgf","k":"t"},{"s":"Col4a4","t":"Trpc4"},{"s":"Col4a4","t":"Thbs1"},{"s":"Thbs1","t":"Col4a4"},{"s":"Thbs1","t":"Trpc4"},{"s":"Kcnma1","t":"Trpc4"},{"s":"Abcc9","t":"Rnf112"},{"s":"Rnf112","t":"Abcc9"},{"s":"Rnf112","t":"Kcnn2"},{"s":"Kcnn2","t":"Rnf112"},{"s":"Abcc9","t":"Mmp23"},{"s":"Mmp23","t":"Abcc9"},{"s":"Kcnma1","t":"Abcc9"},{"s":"Kcnma1","t":"Rnf112"},{"s":"Kcnma1","t":"Mmp23"},{"s":"Mmp23","t":"Rnf112"},{"s":"Mmp23","t":"Kcnn2"},
{"s":"Adamts12","t":"Minar1"},{"s":"Adamts12","t":"Hspb1"},{"s":"Adamts12","t":"Ccdc80"},{"s":"Ccdc80","t":"Ulbp1"},{"s":"Ccdc80","t":"Hspb1"},{"s":"Ccdc80","t":"Nrxn2"},{"s":"Ccdc80","t":"Adamts9"},{"s":"Nrxn2","t":"Ulbp1"},{"s":"Adamts9","t":"Ulbp1"},{"s":"Nrxn2","t":"Adamts9"},{"s":"Adamts9","t":"Hspb1"},{"s":"Adamts9","t":"Aldoc"},{"s":"Adamts9","t":"Kcnc4"},{"s":"Hspb1","t":"Aldoc"},{"s":"Hspb1","t":"Kcnc4"},{"s":"Hspb1","t":"Lingo1"},{"s":"Aldoc","t":"Kcnc4"},{"s":"Kcnc4","t":"Aldoc"},{"s":"Aldoc","t":"Syt7"},{"s":"Aldoc","t":"Lingo1"},{"s":"Kcnc4","t":"Lingo1"},{"s":"Syt7","t":"Kcnc4"},{"s":"Lingo1","t":"Syt7"},{"s":"Irf8","t":"Syt7"},{"s":"Irf8","t":"Lingo1"},{"s":"Irf8","t":"Kcnc4"},{"s":"Col9a2","t":"Irf8"},{"s":"Col11a1","t":"Col9a2"},{"s":"Adamts9","t":"Lingo1"},{"s":"Nrxn2","t":"Pak1"},{"s":"Col11a1","t":"Sptbn2"},{"s":"Ptch1","t":"Col11a1"},{"s":"Pak1","t":"Sptbn2"},{"s":"Pak1","t":"Grin2b"},{"s":"Grin2b","t":"Pak1"},{"s":"Lrp2","t":"Pak1"},{"s":"Acvrl1","t":"Pak1"},{"s":"Acvrl1","t":"Lrp2"},{"s":"Lrp2","t":"Grin2b"},{"s":"Grin2b","t":"Lrp2"},{"s":"Grin2b","t":"Sptbn2"},{"s":"Lrp2","t":"Sptbn2"},{"s":"Lrp2","t":"Piezo2"},{"s":"Grin2b","t":"Piezo2"},{"s":"Pak1","t":"Piezo2"},{"s":"Piezo2","t":"Sptbn2"},{"s":"Acvrl1","t":"Spta1"},{"s":"Acvrl1","t":"Col4a6"},{"s":"Acvrl1","t":"Notch4"},{"s":"Col4a6","t":"Spta1"},{"s":"Notch4","t":"Spta1"},{"s":"Col4a6","t":"Notch4"},{"s":"Col4a6","t":"Nog"},{"s":"Nog","t":"Spta1"},{"s":"Notch4","t":"Stc2"},
{"s":"Ntsr2","t":"Sh3tc2"},{"s":"Cdh5","t":"Ntsr2"},{"s":"Cdh5","t":"Sh3tc2"},{"s":"Ntsr2","t":"Sost"},{"s":"Ntsr2","t":"Ninj2"},{"s":"Ntsr2","t":"Gjb6"},{"s":"Ntsr2","t":"Myh6"},{"s":"Ntsr2","t":"Cd55"},{"s":"Ntsr2","t":"P2ry12"},{"s":"Ntsr2","t":"Actc1"},{"s":"Ntsr2","t":"Apob"},{"s":"Ntsr2","t":"Slc6a1"},{"s":"Ntsr2","t":"Gpr17"},{"s":"Ntsr2","t":"Tifab"},{"s":"Ntsr2","t":"Shh"},{"s":"Cdh5","t":"Sost"},{"s":"Cdh5","t":"Ninj2"},{"s":"Cdh5","t":"Apob"},{"s":"Cdh5","t":"P2ry12"},{"s":"Cdh5","t":"Gjb6"},{"s":"Cdh5","t":"Cd55"},{"s":"Cdh5","t":"Aspa"},{"s":"Cdh5","t":"Actc1"},{"s":"Cdh5","t":"Myh6"},{"s":"Cdh5","t":"Wt1"},{"s":"Sh3tc2","t":"Sost"},{"s":"Sh3tc2","t":"Ninj2"},{"s":"Sh3tc2","t":"Myh6"},{"s":"Sh3tc2","t":"Gjb6"},{"s":"Sh3tc2","t":"Cd55"},{"s":"Sh3tc2","t":"Gpr17"},{"s":"Sh3tc2","t":"Slc6a1"},{"s":"Sh3tc2","t":"Tifab"},{"s":"Sh3tc2","t":"P2ry12"},{"s":"Sh3tc2","t":"Casr"},{"s":"Sost","t":"Ninj2"},{"s":"Sost","t":"Gjb6"},{"s":"Sost","t":"Myh6"},{"s":"Sost","t":"Cd55"},{"s":"Sost","t":"P2ry12"},{"s":"Sost","t":"Actc1"},{"s":"Sost","t":"Gpr17"},{"s":"Sost","t":"Tifab"},{"s":"Sost","t":"Shh"},{"s":"Sost","t":"Slc6a1"},{"s":"Sost","t":"Kcna1"},{"s":"Ninj2","t":"Apob"},{"s":"Ninj2","t":"P2ry12"},{"s":"Ninj2","t":"Gjb6"},{"s":"Ninj2","t":"Cd55"},{"s":"Ninj2","t":"Actc1"},{"s":"Ninj2","t":"Gpr17"},{"s":"Ninj2","t":"Aspa"},{"s":"Ninj2","t":"Shh"},{"s":"Ninj2","t":"Tifab"},{"s":"Ninj2","t":"Myh6"},{"s":"Ninj2","t":"Wt1"},{"s":"Apob","t":"P2ry12"},{"s":"Apob","t":"Aspa"},{"s":"Apob","t":"Actc1"},{"s":"Apob","t":"Cd55"},{"s":"Apob","t":"Wt1"},{"s":"Apob","t":"Gjb6"},{"s":"Apob","t":"Shh"},{"s":"Myh6","t":"Gjb6"},{"s":"Myh6","t":"Slc6a1"},{"s":"Myh6","t":"Gpr17"},{"s":"Myh6","t":"Cd55"},{"s":"Myh6","t":"Tifab"},{"s":"Myh6","t":"Casr"},{"s":"Myh6","t":"Shh"},{"s":"Myh6","t":"Kcna1"},{"s":"Myh6","t":"P2ry12"},{"s":"Gjb6","t":"P2ry12"},{"s":"Gjb6","t":"Cd55"},{"s":"Gjb6","t":"Gpr17"},{"s":"Gjb6","t":"Slc6a1"},{"s":"Gjb6","t":"Tifab"},{"s":"Gjb6","t":"Shh"},{"s":"Gjb6","t":"Actc1"},{"s":"Gjb6","t":"Casr"},{"s":"Gjb6","t":"Kcna1"},{"s":"Gjb6","t":"Aspa"},{"s":"Gjb6","t":"Pgc"},{"s":"Gjb6","t":"Wt1"},{"s":"P2ry12","t":"Cd55"},{"s":"P2ry12","t":"Aspa"},{"s":"P2ry12","t":"Actc1"},{"s":"P2ry12","t":"Gpr17"},{"s":"P2ry12","t":"Shh"},{"s":"P2ry12","t":"Tifab"},{"s":"P2ry12","t":"Wt1"},{"s":"P2ry12","t":"Pgc"},{"s":"P2ry12","t":"Slc6a1"},{"s":"Cd55","t":"Actc1"},{"s":"Cd55","t":"Gpr17"},{"s":"Cd55","t":"Tifab"},{"s":"Cd55","t":"Shh"},{"s":"Cd55","t":"Aspa"},{"s":"Cd55","t":"Slc6a1"},{"s":"Cd55","t":"Wt1"},{"s":"Cd55","t":"Casr"},{"s":"Cd55","t":"Kcna1"},{"s":"Cd55","t":"Pgc"},{"s":"Aspa","t":"Actc1"},{"s":"Aspa","t":"Wt1"},{"s":"Aspa","t":"Shh"},{"s":"Aspa","t":"Pgc"},{"s":"Aspa","t":"Gpr17"},{"s":"Actc1","t":"Shh"},{"s":"Actc1","t":"Wt1"},{"s":"Actc1","t":"Tifab"},{"s":"Actc1","t":"Gpr17"},{"s":"Actc1","t":"Pgc"},{"s":"Actc1","t":"Kcna1"},{"s":"Actc1","t":"Casr"},{"s":"Slc6a1","t":"Gpr17"},{"s":"Slc6a1","t":"Casr"},{"s":"Slc6a1","t":"Tifab"},{"s":"Slc6a1","t":"Kcna1"},{"s":"Slc6a1","t":"Shh"},{"s":"Gpr17","t":"Tifab"},{"s":"Gpr17","t":"Shh"},{"s":"Gpr17","t":"Casr"},{"s":"Gpr17","t":"Kcna1"},{"s":"Gpr17","t":"Pgc"},{"s":"Tifab","t":"Shh"},{"s":"Tifab","t":"Casr"},{"s":"Tifab","t":"Kcna1"},{"s":"Tifab","t":"Pgc"},{"s":"Tifab","t":"Wt1"},{"s":"Shh","t":"Wt1"},{"s":"Shh","t":"Kcna1"},{"s":"Shh","t":"Pgc"},{"s":"Shh","t":"Casr"},{"s":"Wt1","t":"Pgc"},{"s":"Wt1","t":"Kcna1"},{"s":"Casr","t":"Kcna1"},{"s":"Casr","t":"Pgc"},{"s":"Kcna1","t":"Pgc"}
]
},
"resolve":{"scale":{"x":"independent","y":"independent","color":"independent","size":"independent"}},
"layer":[
{"data":{"name":"heat"},"layer":[
 {"mark":{"type":"rect","strokeWidth":0.8},"encoding":{
  "x":{"field":"s","type":"nominal","sort":null,"axis":null,"scale":{"type":"band","domain":["control","12h","24h","48h"],"range":[88.4,552.6],"paddingInner":0,"paddingOuter":0}},
  "y":{"field":"g","type":"nominal","sort":null,"axis":null,"scale":{"type":"band","range":[47.5,620.3],"paddingInner":0,"paddingOuter":0}},
  "color":{"field":"v","type":"quantitative","legend":null,"scale":{"domain":[-1.5,0,1.5],"range":["#000099","#ffffff","#ff0000"],"interpolate":"rgb"}},
  "stroke":{"field":"v","type":"quantitative","legend":null,"scale":{"domain":[-1.5,0,1.5],"range":["#000099","#ffffff","#ff0000"],"interpolate":"rgb"}}}},
 {"transform":[{"filter":"datum.s==='48h'"}],"mark":{"type":"text","align":"left","baseline":"middle","dx":61,"font":"Liberation Serif","fontSize":7.5,"color":"#111111"},"encoding":{
  "x":{"field":"s","type":"nominal","sort":null,"axis":null,"scale":{"type":"band","domain":["control","12h","24h","48h"],"range":[88.4,552.6],"paddingInner":0,"paddingOuter":0}},
  "y":{"field":"g","type":"nominal","sort":null,"axis":null,"scale":{"type":"band","range":[47.5,620.3],"paddingInner":0,"paddingOuter":0}},
  "text":{"field":"g"}}}
]},
{"data":{"values":[{"l":"control"},{"l":"12h"},{"l":"24h"},{"l":"48h"}]},"mark":{"type":"text","dx":4,"align":"center","baseline":"alphabetic","font":"Liberation Serif","fontWeight":"bold","fontSize":29.5,"color":"#000000"},"encoding":{
 "x":{"field":"l","type":"nominal","sort":null,"axis":null,"scale":{"type":"band","domain":["control","12h","24h","48h"],"range":[88.4,552.6],"paddingInner":0,"paddingOuter":0}},
 "y":{"datum":647,"type":"quantitative","axis":null,"scale":{"domain":[0,1240],"range":[0,1240]}},
 "text":{"field":"l"}}},
{"data":{"name":"dend"},"mark":{"type":"rule","color":"#8c8cd0","strokeWidth":1},"encoding":{
 "x":{"field":"a","type":"quantitative","axis":null,"scale":{"domain":[0,767],"range":[0,767]}},"x2":{"field":"c"},
 "y":{"field":"b","type":"quantitative","axis":null,"scale":{"domain":[0,1240],"range":[0,1240]}},"y2":{"field":"d"}}},
{"data":{"name":"heat"},"transform":[{"filter":"datum.s==='control'"}],"mark":{"type":"rule","color":"#8c8cd0","strokeWidth":1},"encoding":{
 "x":{"datum":86,"type":"quantitative","axis":null,"scale":{"domain":[0,767],"range":[0,767]}},"x2":{"datum":88.4},
 "y":{"field":"g","type":"nominal","sort":null,"axis":null,"scale":{"type":"band","range":[47.5,620.3],"paddingInner":0,"paddingOuter":0}}}},
{"data":{"values":[{"from":-1.5,"to":1.5}]},"mark":{"type":"rect","fill":{"gradient":"linear","x1":0,"y1":0,"x2":1,"y2":0,"stops":[{"offset":0,"color":"#000099"},{"offset":0.5,"color":"#ffffff"},{"offset":1,"color":"#ff0000"}]}},"encoding":{
 "x":{"field":"from","type":"quantitative","axis":null,"scale":{"domain":[-1.5,1.5],"range":[88.4,552.6]}},"x2":{"field":"to"},
 "y":{"datum":9.5,"type":"quantitative","axis":null,"scale":{"domain":[0,1240],"range":[0,1240]}},"y2":{"datum":15.5}}},
{"data":{"values":[{"v":-1.5,"l":"1.5"}]},"mark":{"type":"text","align":"left","dx":-4,"baseline":"alphabetic","font":"Liberation Serif","fontWeight":"bold","fontSize":21.5,"color":"#000000"},"encoding":{
 "x":{"field":"v","type":"quantitative","axis":null,"scale":{"domain":[-1.5,1.5],"range":[88.4,552.6]}},
 "y":{"datum":35.5,"type":"quantitative","axis":null,"scale":{"domain":[0,1240],"range":[0,1240]}},"text":{"field":"l"}}},
{"data":{"values":[{"v":0,"l":"0.0"}]},"mark":{"type":"text","align":"center","baseline":"alphabetic","font":"Liberation Serif","fontWeight":"bold","fontSize":21.5,"color":"#000000"},"encoding":{
 "x":{"field":"v","type":"quantitative","axis":null,"scale":{"domain":[-1.5,1.5],"range":[88.4,552.6]}},
 "y":{"datum":35.5,"type":"quantitative","axis":null,"scale":{"domain":[0,1240],"range":[0,1240]}},"text":{"field":"l"}}},
{"data":{"values":[{"v":1.5,"l":"1.5"}]},"mark":{"type":"text","align":"right","dx":9,"baseline":"alphabetic","font":"Liberation Serif","fontWeight":"bold","fontSize":21.5,"color":"#000000"},"encoding":{
 "x":{"field":"v","type":"quantitative","axis":null,"scale":{"domain":[-1.5,1.5],"range":[88.4,552.6]}},
 "y":{"datum":35.5,"type":"quantitative","axis":null,"scale":{"domain":[0,1240],"range":[0,1240]}},"text":{"field":"l"}}},
{"data":{"values":[{"l":"a"}]},"mark":{"type":"text","align":"left","baseline":"alphabetic","font":"Liberation Serif","fontSize":38,"color":"#000000"},"encoding":{
 "x":{"datum":4,"type":"quantitative","axis":null,"scale":{"domain":[0,767],"range":[0,767]}},
 "y":{"datum":22,"type":"quantitative","axis":null,"scale":{"domain":[0,1240],"range":[0,1240]}},"text":{"field":"l"}}},
{"data":{"values":[{"l":"b"}]},"mark":{"type":"text","align":"left","baseline":"alphabetic","font":"Liberation Serif","fontSize":40,"color":"#000000"},"encoding":{
 "x":{"datum":3,"type":"quantitative","axis":null,"scale":{"domain":[0,767],"range":[0,767]}},
 "y":{"datum":723,"type":"quantitative","axis":null,"scale":{"domain":[0,1240],"range":[0,1240]}},"text":{"field":"l"}}},
{"data":{"values":[{"k":"hi","l":"4.4"},{"k":"m1","l":""},{"k":"m2","l":""},{"k":"lo","l":"3.4"}]},"layer":[
 {"mark":{"type":"rect"},"encoding":{"x":{"datum":627,"type":"quantitative","axis":null,"scale":{"domain":[0,767],"range":[0,767]}},"x2":{"datum":652},"y":{"field":"k","type":"nominal","sort":null,"axis":null,"scale":{"type":"band","range":[50.4,151],"paddingInner":0,"paddingOuter":0}},"color":{"field":"k","type":"nominal","legend":null,"scale":{"domain":["hi","m1","m2","lo"],"range":["#8856a7","#8c96c6","#b3cde3","#edf8fb"]}}}},
 {"mark":{"type":"text","align":"left","baseline":"middle","font":"Liberation Sans","fontSize":16.5,"color":"#111111"},"encoding":{"x":{"datum":657,"type":"quantitative","axis":null,"scale":{"domain":[0,767],"range":[0,767]}},"y":{"field":"k","type":"nominal","sort":null,"axis":null,"scale":{"type":"band","range":[50.4,151],"paddingInner":0,"paddingOuter":0}},"text":{"field":"l"}}}
]},
{"data":{"values":[{"k":"Con"},{"k":"12h"},{"k":"24h"},{"k":"48h"}]},"layer":[
 {"mark":{"type":"rect"},"encoding":{"x":{"datum":627,"type":"quantitative","axis":null,"scale":{"domain":[0,767],"range":[0,767]}},"x2":{"datum":652},"y":{"field":"k","type":"nominal","sort":null,"axis":null,"scale":{"type":"band","range":[189,290],"paddingInner":0,"paddingOuter":0}},"color":{"field":"k","type":"nominal","legend":null,"scale":{"domain":["Con","12h","24h","48h"],"range":["#e7ae00","#00dde3","#00db80","#ff80e6"]}}}},
 {"mark":{"type":"text","align":"left","baseline":"middle","font":"Liberation Serif","fontSize":17,"color":"#222222"},"encoding":{"x":{"datum":659,"type":"quantitative","axis":null,"scale":{"domain":[0,767],"range":[0,767]}},"y":{"field":"k","type":"nominal","sort":null,"axis":null,"scale":{"type":"band","range":[189,290],"paddingInner":0,"paddingOuter":0}},"text":{"field":"k"}}}
]},
{"data":{"values":[{"k":"Con"},{"k":"12h"},{"k":"24h"},{"k":"48h"}]},"layer":[
 {"mark":{"type":"rect"},"encoding":{"x":{"datum":627,"type":"quantitative","axis":null,"scale":{"domain":[0,767],"range":[0,767]}},"x2":{"datum":652},"y":{"field":"k","type":"nominal","sort":null,"axis":null,"scale":{"type":"band","range":[328,429],"paddingInner":0,"paddingOuter":0}},"color":{"field":"k","type":"nominal","legend":null,"scale":{"domain":["Con","12h","24h","48h"],"range":["#00c2ff","#ff8e8a","#dd99ff","#99cc00"]}}}},
 {"mark":{"type":"text","align":"left","baseline":"middle","font":"Liberation Serif","fontSize":17,"color":"#222222"},"encoding":{"x":{"datum":659,"type":"quantitative","axis":null,"scale":{"domain":[0,767],"range":[0,767]}},"y":{"field":"k","type":"nominal","sort":null,"axis":null,"scale":{"type":"band","range":[328,429],"paddingInner":0,"paddingOuter":0}},"text":{"field":"k"}}}
]},
{"data":{"values":[{"k":"hi","l":"4000"},{"k":"m1","l":""},{"k":"m2","l":""},{"k":"lo","l":"0"}]},"layer":[
 {"mark":{"type":"rect"},"encoding":{"x":{"datum":627,"type":"quantitative","axis":null,"scale":{"domain":[0,767],"range":[0,767]}},"x2":{"datum":652},"y":{"field":"k","type":"nominal","sort":null,"axis":null,"scale":{"type":"band","range":[467,568],"paddingInner":0,"paddingOuter":0}},"color":{"field":"k","type":"nominal","legend":null,"scale":{"domain":["hi","m1","m2","lo"],"range":["#2ca25f","#66c2a4","#b2e2e2","#edf8fb"]}}}},
 {"mark":{"type":"text","align":"left","baseline":"middle","font":"Liberation Sans","fontSize":16.5,"color":"#111111"},"encoding":{"x":{"datum":657,"type":"quantitative","axis":null,"scale":{"domain":[0,767],"range":[0,767]}},"y":{"field":"k","type":"nominal","sort":null,"axis":null,"scale":{"type":"band","range":[467,568],"paddingInner":0,"paddingOuter":0}},"text":{"field":"l"}}}
]},
{"data":{"values":[{"t":"SamplesMedian"}]},"mark":{"type":"text","align":"left","baseline":"middle","font":"Liberation Sans","fontWeight":"bold","fontSize":17,"color":"#111111"},"encoding":{"x":{"datum":626,"type":"quantitative","axis":null,"scale":{"domain":[0,767],"range":[0,767]}},"y":{"datum":38,"type":"quantitative","axis":null,"scale":{"domain":[0,1240],"range":[0,1240]}},"text":{"field":"t"}}},
{"data":{"values":[{"t":"GroupsName"}]},"mark":{"type":"text","align":"left","baseline":"middle","font":"Liberation Sans","fontWeight":"bold","fontSize":17,"color":"#111111"},"encoding":{"x":{"datum":626,"type":"quantitative","axis":null,"scale":{"domain":[0,767],"range":[0,767]}},"y":{"datum":178,"type":"quantitative","axis":null,"scale":{"domain":[0,1240],"range":[0,1240]}},"text":{"field":"t"}}},
{"data":{"values":[{"t":"SampleNames"}]},"mark":{"type":"text","align":"left","baseline":"middle","font":"Liberation Sans","fontWeight":"bold","fontSize":17,"color":"#111111"},"encoding":{"x":{"datum":626,"type":"quantitative","axis":null,"scale":{"domain":[0,767],"range":[0,767]}},"y":{"datum":317,"type":"quantitative","axis":null,"scale":{"domain":[0,1240],"range":[0,1240]}},"text":{"field":"t"}}},
{"data":{"values":[{"t":"GenesMedian"}]},"mark":{"type":"text","align":"left","baseline":"middle","font":"Liberation Sans","fontWeight":"bold","fontSize":17,"color":"#111111"},"encoding":{"x":{"datum":626,"type":"quantitative","axis":null,"scale":{"domain":[0,767],"range":[0,767]}},"y":{"datum":456,"type":"quantitative","axis":null,"scale":{"domain":[0,1240],"range":[0,1240]}},"text":{"field":"t"}}},
{"layer":[
 {"data":{"name":"edges"},"transform":[
  {"lookup":"s","from":{"data":{"name":"nodes"},"key":"n","fields":["x","y"]},"as":["sx","sy"]},
  {"lookup":"t","from":{"data":{"name":"nodes"},"key":"n","fields":["x","y"]},"as":["tx","ty"]}],
  "mark":{"type":"rule","color":"#808080","strokeWidth":0.9},"encoding":{
  "x":{"field":"sx","type":"quantitative","axis":null,"scale":{"domain":[0,767],"range":[0,767]}},"x2":{"field":"tx"},
  "y":{"field":"sy","type":"quantitative","axis":null,"scale":{"domain":[0,1240],"range":[0,1240]}},"y2":{"field":"ty"}}},
 {"data":{"name":"nodes"},"mark":{"type":"point","filled":true,"stroke":"#a8a8b4","strokeWidth":0.8,"opacity":1},"encoding":{
  "x":{"field":"x","type":"quantitative","axis":null,"scale":{"domain":[0,767],"range":[0,767]}},"y":{"field":"y","type":"quantitative","axis":null,"scale":{"domain":[0,1240],"range":[0,1240]}},
  "size":{"field":"deg","type":"quantitative","legend":null,"scale":{"domain":[1,30],"range":[400,841]}},
  "color":{"field":"fc","type":"quantitative","legend":null,"scale":{"domain":[-1,0,1],"range":["#6666ff","#ffffff","#ff6666"],"interpolate":"rgb"}}}},
 {"data":{"name":"edges"},"transform":[
  {"filter":"datum.k!=='t'"},
  {"lookup":"s","from":{"data":{"name":"nodes"},"key":"n","fields":["x","y"]},"as":["sx","sy"]},
  {"lookup":"t","from":{"data":{"name":"nodes"},"key":"n","fields":["x","y","deg"]},"as":["tx","ty","td"]},
  {"calculate":"sqrt((datum.tx-datum.sx)*(datum.tx-datum.sx)+(datum.ty-datum.sy)*(datum.ty-datum.sy))","as":"len"},
  {"calculate":"sqrt(400+(datum.td-1)*441/29)/2+2.5","as":"off"},
  {"calculate":"datum.tx-(datum.tx-datum.sx)/datum.len*datum.off","as":"ax"},
  {"calculate":"datum.ty-(datum.ty-datum.sy)/datum.len*datum.off","as":"ay"},
  {"calculate":"atan2(datum.tx-datum.sx,datum.sy-datum.ty)*180/PI","as":"ang"}],
  "mark":{"type":"point","shape":"triangle","filled":true,"color":"#333333","size":13,"opacity":1},"encoding":{
  "x":{"field":"ax","type":"quantitative","axis":null,"scale":{"domain":[0,767],"range":[0,767]}},"y":{"field":"ay","type":"quantitative","axis":null,"scale":{"domain":[0,1240],"range":[0,1240]}},
  "angle":{"field":"ang","type":"quantitative","scale":null}}},
 {"data":{"name":"edges"},"transform":[
  {"filter":"datum.k==='t'"},
  {"lookup":"s","from":{"data":{"name":"nodes"},"key":"n","fields":["x","y"]},"as":["sx","sy"]},
  {"lookup":"t","from":{"data":{"name":"nodes"},"key":"n","fields":["x","y","deg"]},"as":["tx","ty","td"]},
  {"calculate":"sqrt((datum.tx-datum.sx)*(datum.tx-datum.sx)+(datum.ty-datum.sy)*(datum.ty-datum.sy))","as":"len"},
  {"calculate":"sqrt(400+(datum.td-1)*441/29)/2+3","as":"off"},
  {"calculate":"datum.tx-(datum.tx-datum.sx)/datum.len*datum.off","as":"ax"},
  {"calculate":"datum.ty-(datum.ty-datum.sy)/datum.len*datum.off","as":"ay"},
  {"calculate":"atan2(datum.tx-datum.sx,datum.sy-datum.ty)*180/PI","as":"ang"}],
  "mark":{"type":"point","shape":"stroke","filled":false,"color":"#222222","strokeWidth":1.2,"size":80,"opacity":1},"encoding":{
  "x":{"field":"ax","type":"quantitative","axis":null,"scale":{"domain":[0,767],"range":[0,767]}},"y":{"field":"ay","type":"quantitative","axis":null,"scale":{"domain":[0,1240],"range":[0,1240]}},
  "angle":{"field":"ang","type":"quantitative","scale":null}}},
 {"data":{"name":"nodes"},"mark":{"type":"text","align":"center","baseline":"middle","font":"Liberation Sans","fontSize":8.2,"color":"#1a1a1a"},"encoding":{
  "x":{"field":"x","type":"quantitative","axis":null,"scale":{"domain":[0,767],"range":[0,767]}},"y":{"field":"y","type":"quantitative","axis":null,"scale":{"domain":[0,1240],"range":[0,1240]}},"text":{"field":"n"}}}
]}
]}
